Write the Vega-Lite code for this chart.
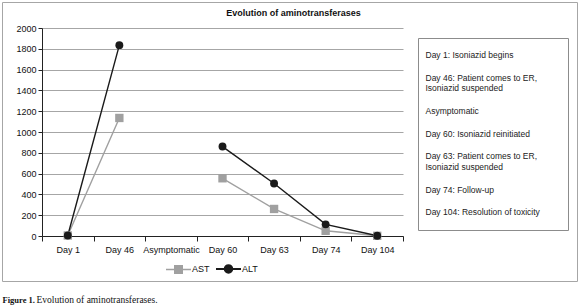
{
  "$schema": "https://vega.github.io/schema/vega-lite/v6.json",
  "width": 575,
  "height": 279,
  "autosize": {"type": "none"},
  "padding": {"left": 2, "top": 2, "right": 3, "bottom": 26},
  "background": "white",
  "config": {
    "view": {"stroke": "#a6a6a6", "strokeWidth": 1},
    "font": "Liberation Sans"
  },
  "title": {
    "text": "Evolution of aminotransferases",
    "frame": "group",
    "anchor": "middle",
    "offset": -16,
    "dx": 4,
    "fontSize": 9,
    "fontWeight": "bold",
    "font": "Liberation Sans",
    "color": "#111111"
  },
  "data": {
    "values": [
      {"day": "Day 1", "note": "Day 1: Isoniazid begins", "AST": 5, "ALT": 5},
      {"day": "Day 46", "note": "Day 46: Patient comes to ER, Isoniazid suspended", "AST": 1135, "ALT": 1835},
      {"day": "Asymptomatic", "note": "Asymptomatic", "AST": null, "ALT": null},
      {"day": "Day 60", "note": "Day 60: Isoniazid reinitiated", "AST": 555, "ALT": 860},
      {"day": "Day 63", "note": "Day 63: Patient comes to ER, Isoniazid suspended", "AST": 260, "ALT": 505},
      {"day": "Day 74", "note": "Day 74: Follow-up", "AST": 50, "ALT": 112},
      {"day": "Day 104", "note": "Day 104: Resolution of toxicity", "AST": 2, "ALT": 2}
    ]
  },
  "layer": [
    {
      "transform": [{"fold": ["AST", "ALT"], "as": ["series", "value"]}],
      "mark": {"type": "line", "invalid": "break-paths-show-domains", "strokeWidth": 1.4},
      "encoding": {
        "x": {
          "field": "day",
          "type": "nominal",
          "sort": null,
          "scale": {"type": "band", "range": [40, 401], "paddingInner": 0, "paddingOuter": 0},
          "axis": {
            "title": "Figure 1.",
            "titleFont": "Liberation Serif",
            "titleFontSize": 8.5,
            "titleFontWeight": "bold",
            "titleColor": "#111111",
            "titleX": 0,
            "titleY": 66,
            "titleAlign": "left",
            "titleBaseline": "alphabetic",
            "offset": -45,
            "tickBand": "extent",
            "labelAngle": 0,
            "labelFontSize": 9,
            "labelColor": "#111111",
            "labelPadding": 4,
            "domainColor": "#222222",
            "tickColor": "#222222",
            "tickSize": 5,
            "grid": false
          }
        },
        "y": {
          "field": "value",
          "type": "quantitative",
          "scale": {"domain": [0, 2000], "range": [234, 26], "nice": false},
          "axis": {
            "title": "Evolution of aminotransferases.",
            "titleAngle": 0,
            "titleFont": "Liberation Serif",
            "titleFontSize": 9.5,
            "titleFontWeight": "normal",
            "titleColor": "#111111",
            "titleX": -6,
            "titleY": 300,
            "titleAlign": "left",
            "titleBaseline": "alphabetic",
            "offset": -40,
            "values": [0, 200, 400, 600, 800, 1000, 1200, 1400, 1600, 1800, 2000],
            "tickCount": 20,
            "format": "d",
            "labelOverlap": false,
            "labelFontSize": 9,
            "labelColor": "#111111",
            "labelPadding": 2,
            "domainColor": "#222222",
            "tickColor": "#222222",
            "tickSize": 4,
            "grid": true,
            "gridColor": "#a6a6a6"
          }
        },
        "color": {
          "field": "series",
          "type": "nominal",
          "scale": {"domain": ["AST", "ALT"], "range": ["#a0a0a0", "#1a1a1a"]},
          "legend": {
            "orient": "none",
            "legendX": 172,
            "legendY": 262,
            "direction": "horizontal",
            "title": null,
            "padding": 0,
            "symbolSize": 625,
            "symbolStrokeWidth": 1.5,
            "labelFontSize": 9,
            "labelColor": "#111111",
            "labelOffset": 9,
            "columnPadding": 2,
            "encode": {
              "symbols": {
                "update": {
                  "shape": {"signal": "datum.value === 'AST' ? 'M-1,0H1M-0.3,-0.3H0.3V0.3H-0.3Z' : 'M-1,0H1M0.3,0A0.3,0.3,0,1,1,-0.3,0A0.3,0.3,0,1,1,0.3,0Z'"},
                  "size": {"value": 625},
                  "fill": {"signal": "scale('color', datum.value)"},
                  "stroke": {"signal": "scale('color', datum.value)"},
                  "strokeWidth": {"signal": "datum.value === 'AST' ? 1.5 : 2"},
                  "opacity": {"value": 1}
                }
              }
            }
          }
        }
      }
    },
    {
      "transform": [{"fold": ["AST", "ALT"], "as": ["series", "value"]}, {"filter": "datum.series === 'AST'"}],
      "mark": {"type": "point", "filled": true, "opacity": 1, "shape": "square", "size": 70, "invalid": "break-paths-show-domains"},
      "encoding": {
        "x": {"field": "day", "type": "nominal", "sort": null},
        "y": {"field": "value", "type": "quantitative"},
        "color": {"field": "series", "type": "nominal"}
      }
    },
    {
      "transform": [{"fold": ["AST", "ALT"], "as": ["series", "value"]}, {"filter": "datum.series === 'ALT'"}],
      "mark": {"type": "point", "filled": true, "opacity": 1, "shape": "circle", "size": 62, "invalid": "break-paths-show-domains"},
      "encoding": {
        "x": {"field": "day", "type": "nominal", "sort": null},
        "y": {"field": "value", "type": "quantitative"},
        "color": {"field": "series", "type": "nominal"}
      }
    },
    {
      "mark": {"type": "point", "opacity": 0},
      "encoding": {
        "x": {"field": "day", "type": "nominal", "sort": null},
        "fill": {
          "field": "note",
          "type": "nominal",
          "sort": null,
          "legend": {
            "orient": "none",
            "legendX": 416,
            "legendY": 36,
            "title": null,
            "padding": 13,
            "strokeColor": "#8c8c8c",
            "symbolType": "M0,0H29.75",
            "symbolSize": 64,
            "symbolStrokeWidth": 0,
            "symbolOpacity": 0,
            "labelFontSize": 8.5,
            "labelColor": "#222222",
            "labelOffset": -14,
            "labelLimit": 300,
            "rowPadding": 13.5,
            "labelExpr": "split(replace(datum.label, ', ', ',~'), '~')",
            "encode": {"labels": {"update": {"lineHeight": {"value": 14}}}}
          }
        }
      }
    }
  ]
}
